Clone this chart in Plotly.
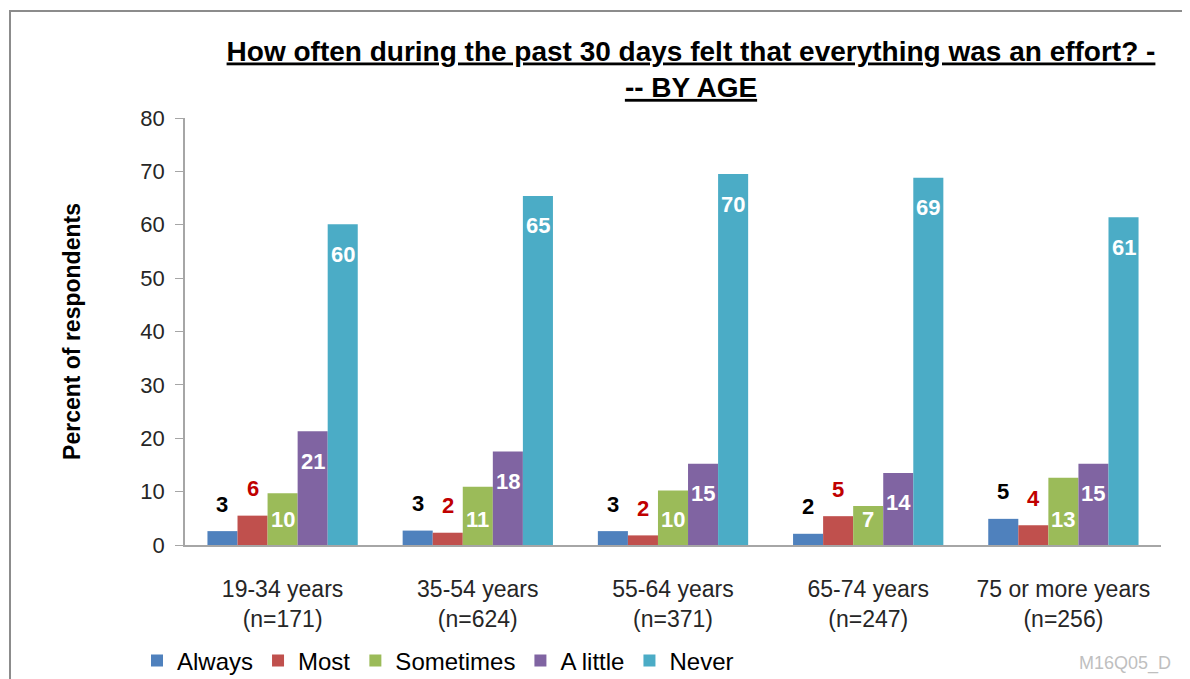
import plotly.graph_objects as go

categories = ["19-34 years<br>(n=171)", "35-54 years<br>(n=624)", "55-64 years<br>(n=371)",
              "65-74 years<br>(n=247)", "75 or more years<br>(n=256)"]
series_names = ["Always", "Most", "Sometimes", "A little", "Never"]
always = [2.6, 2.7, 2.6, 2.1, 4.9]
most = [5.5, 2.3, 1.8, 5.4, 3.7]
sometimes = [9.7, 10.9, 10.2, 7.3, 12.6]
a_little = [21.3, 17.5, 15.2, 13.5, 15.2]
never = [60.1, 65.4, 69.5, 68.8, 61.4]
values = [always, most, sometimes, a_little, never]
colors = ["#4F81BD", "#C0504D", "#9BBB59", "#8064A2", "#4BACC6"]
label_colors = ["#000000", "#C00000", "#FFFFFF", "#FFFFFF", "#FFFFFF"]
yticks = [0, 10, 20, 30, 40, 50, 60, 70, 80]

FONT = "Liberation Sans, Arial, sans-serif"

fig = go.Figure()
for name, vals, col in zip(series_names, values, colors):
    fig.add_trace(go.Bar(x=categories, y=vals, name=name, marker_color=col,
                         marker_line_width=0))

OFF = 8  # page body margin
W, H = 1190 - OFF, 679 - OFF
L, R, T, B = 185 - OFF, 29, 118 - OFF, 134
plot_w = W - L - R
plot_h = H - T - B
bargap = 0.23
bar_w = plot_w / len(categories) * (1 - bargap) / len(series_names)


def px_x(page_x):
    return (page_x - OFF - L) / plot_w


def px_y(page_y):
    return 1 - (page_y - OFF - T) / plot_h


annotations = []
for i, (vals, lc) in enumerate(zip(values, label_colors)):
    for j, v in enumerate(vals):
        if i < 2:
            y, ys = v, 27
        elif i == 2:
            y, ys = 0, 26
        else:
            y, ys = v, -30
        annotations.append(dict(x=categories[j], y=y, xref="x", yref="y",
                                text=f"<b>{round(v)}</b>", showarrow=False,
                                xshift=(i - 2) * bar_w, yshift=ys,
                                yanchor="middle", xanchor="center",
                                font=dict(family=FONT, size=22, color=lc)))

annotations.append(dict(x=px_x(1173), y=px_y(663),
                        xref="paper", yref="paper", text="M16Q05_D",
                        showarrow=False, xanchor="right", yanchor="middle",
                        font=dict(family=FONT, size=18, color="#BFBFBF")))

fig.update_layout(
    width=W, height=H,
    margin=dict(l=L, r=R, t=T, b=B, autoexpand=False),
    paper_bgcolor="white", plot_bgcolor="white",
    barmode="group", bargap=bargap, bargroupgap=0,
    title=dict(text="<b><u>How often during the past 30 days felt that everything was an effort? -</u></b><br><b><u>-- BY AGE</u></b>",
               x=px_x(691), xref="paper", xanchor="center",
               y=1 - (60.5 - OFF) / H, yanchor="middle",
               font=dict(family=FONT, size=28, color="#000000")),
    font=dict(family=FONT, color="#262626"),
    showlegend=True,
    legend=dict(orientation="h", x=px_x(137), xanchor="left",
                y=px_y(661), yanchor="middle",
                font=dict(family=FONT, size=24, color="#000000"),
                traceorder="normal", itemclick=False),
    annotations=annotations,
    shapes=[dict(type="rect", xref="paper", yref="paper",
                 x0=px_x(10), x1=px_x(1210),
                 y0=px_y(700), y1=px_y(11),
                 line=dict(color="#8C8C8C", width=2), layer="below")],
)
fig.update_yaxes(range=[0, 80], tickvals=yticks, showgrid=False, zeroline=False,
                 automargin=False,
                 showline=True, linecolor="#A6A6A6", linewidth=1.5,
                 ticks="outside", ticklen=8, tickcolor="#A6A6A6",
                 ticklabelstandoff=6,
                 tickfont=dict(family=FONT, size=22, color="#262626"),
                 title=dict(text="<b>Percent of respondents</b>", standoff=53,
                            font=dict(family=FONT, size=23, color="#000000")))
fig.update_xaxes(showgrid=False, showline=True, linecolor="#A6A6A6", linewidth=2,
                 automargin=False, ticks="", ticklabelstandoff=22,
                 tickfont=dict(family=FONT, size=23, color="#262626"))

fig.write_html("out.html")
